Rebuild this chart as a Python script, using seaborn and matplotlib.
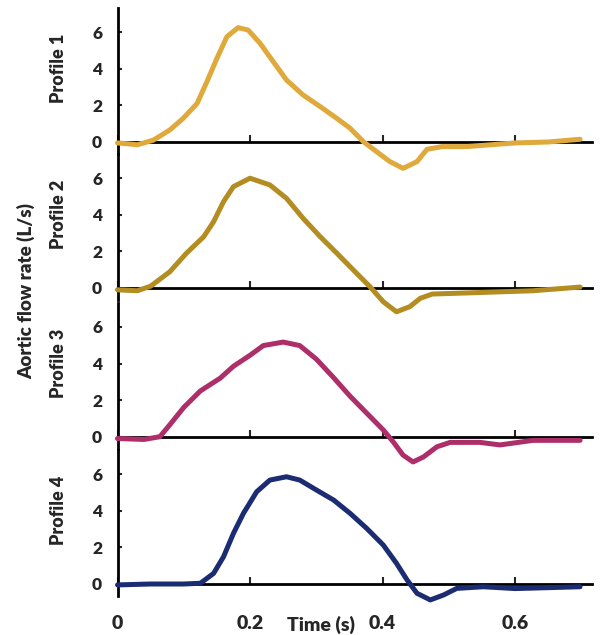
import matplotlib
matplotlib.use("Agg")
import matplotlib.pyplot as plt
import matplotlib.transforms as mtransforms
import seaborn as sns
import pandas as pd

# ---- data ----
t1 = [0, 0.03, 0.054, 0.079, 0.099, 0.12, 0.135, 0.15, 0.165, 0.182, 0.197, 0.215, 0.235,
      0.255, 0.28, 0.306, 0.331, 0.351, 0.371, 0.391, 0.411, 0.431, 0.452, 0.467, 0.49,
      0.527, 0.6, 0.65, 0.698]
y1 = [-0.05, -0.15, 0.1, 0.66, 1.29, 2.1, 3.3, 4.57, 5.75, 6.25, 6.12, 5.4, 4.39,
      3.39, 2.57, 1.93, 1.29, 0.75, 0.02, -0.53, -1.07, -1.44, -1.07, -0.4, -0.25,
      -0.25, -0.05, 0.0, 0.15]

t2 = [0, 0.03, 0.05, 0.079, 0.104, 0.13, 0.145, 0.16, 0.175, 0.2, 0.23, 0.255, 0.28,
      0.306, 0.331, 0.356, 0.381, 0.401, 0.421, 0.441, 0.457, 0.475, 0.527, 0.627, 0.698]
y2 = [-0.1, -0.15, 0.1, 0.89, 1.9, 2.8, 3.62, 4.72, 5.54, 6.0, 5.63, 4.9, 3.81,
      2.8, 1.9, 0.98, 0.07, -0.75, -1.3, -1.02, -0.56, -0.33, -0.27, -0.15, 0.05]

t3 = [0, 0.04, 0.064, 0.08, 0.1, 0.125, 0.155, 0.175, 0.2, 0.22, 0.25, 0.275, 0.3,
      0.326, 0.351, 0.376, 0.401, 0.416, 0.431, 0.446, 0.462, 0.482, 0.502, 0.547,
      0.577, 0.627, 0.698]
y3 = [-0.1, -0.15, 0.0, 0.7, 1.6, 2.5, 3.2, 3.85, 4.45, 4.98, 5.17, 4.98, 4.24,
      3.23, 2.21, 1.29, 0.37, -0.28, -1.01, -1.38, -1.1, -0.55, -0.31, -0.31,
      -0.45, -0.2, -0.2]

t4 = [0, 0.05, 0.1, 0.125, 0.145, 0.16, 0.175, 0.19, 0.21, 0.23, 0.255, 0.275, 0.3,
      0.326, 0.351, 0.376, 0.401, 0.421, 0.437, 0.452, 0.472, 0.492, 0.512, 0.552,
      0.6, 0.65, 0.698]
y4 = [-0.05, 0.0, 0.0, 0.04, 0.58, 1.49, 2.77, 3.86, 5.04, 5.68, 5.86, 5.68, 5.14,
      4.59, 3.86, 3.04, 2.13, 1.13, 0.22, -0.51, -0.87, -0.6, -0.24, -0.15,
      -0.25, -0.2, -0.15]

profiles = ["Profile 1", "Profile 2", "Profile 3", "Profile 4"]
colors = ["#DFA93C", "#B38D22", "#AD2E68", "#1C2C72"]
y_ticks = [0, 2, 4, 6]
x_ticks = [0, 0.2, 0.4, 0.6]
x_tick_labels = ["0", "0.2", "0.4", "0.6"]

series = [(t1, y1), (t2, y2), (t3, y3), (t4, y4)]

sns.set_style("white")
plt.rcParams["font.family"] = ["Lato", "DejaVu Sans"]
plt.rcParams["font.weight"] = "bold"

W, H = 603, 635
fig = plt.figure(figsize=(W / 100, H / 100), dpi=100)

zeros_px = [142, 288, 436.7, 584]
px_per_unit = 18.3
ylo, yhi = -0.65, 7.3
left_px, right_px = 117.5, 592
FW = "heavy"

for i, (name, (tt, yy), c, z) in enumerate(zip(profiles, series, colors, zeros_px)):
    top = z - yhi * px_per_unit
    bot = z - ylo * px_per_unit
    ax = fig.add_axes([left_px / W, 1 - bot / H, (right_px - left_px) / W, (bot - top) / H])
    ax.set_facecolor("none")
    df = pd.DataFrame({"t": tt, "flow": yy})
    sns.lineplot(data=df, x="t", y="flow", ax=ax, color=c, linewidth=3.6, sort=False,
                 estimator=None)
    for ln in ax.lines:
        ln.set_clip_on(False)
        ln.set_solid_capstyle("round")
        ln.set_solid_joinstyle("round")
        ln.set_zorder(5)
    ax.set_xlim(0, 0.716)
    ax.set_ylim(ylo, yhi)
    ax.spines["top"].set_visible(False)
    ax.spines["right"].set_visible(False)
    ax.spines["bottom"].set_position(("data", 0))
    for s in ("left", "bottom"):
        ax.spines[s].set_color("black")
        ax.spines[s].set_linewidth(2.0)
        ax.spines[s].set_zorder(4)
    ax.set_yticks(y_ticks)
    ax.set_yticklabels([str(v) for v in y_ticks], fontsize=12.5, fontweight=FW)
    ax.tick_params(axis="y", direction="in", length=3, width=1.5, pad=11, left=True)
    ax.set_xticks(x_ticks)
    ax.tick_params(axis="x", direction="in", length=5, width=1.5, bottom=True)
    if i < 3:
        ax.set_xticklabels([])
    else:
        ax.set_xticklabels(x_tick_labels, fontsize=14, fontweight=FW)
        ax.tick_params(axis="x", pad=22)
    ax.set_xlabel("")
    ax.set_ylabel("")
    trans = mtransforms.blended_transform_factory(ax.transAxes, ax.transData)
    ax.text((59 - left_px) / (right_px - left_px), 4.0, name, transform=trans,
            rotation=90, ha="center", va="center", fontsize=13, fontweight=FW)

fig.text(26 / W, 1 - 291 / H, "Aortic flow rate (L/s)", rotation=90, ha="center",
         va="center", fontsize=13.5, fontweight=FW)
fig.text(321 / W, 1 - 625 / H, "Time (s)", ha="center", va="center",
         fontsize=14, fontweight=FW)

fig.savefig("out.png", dpi=100)
